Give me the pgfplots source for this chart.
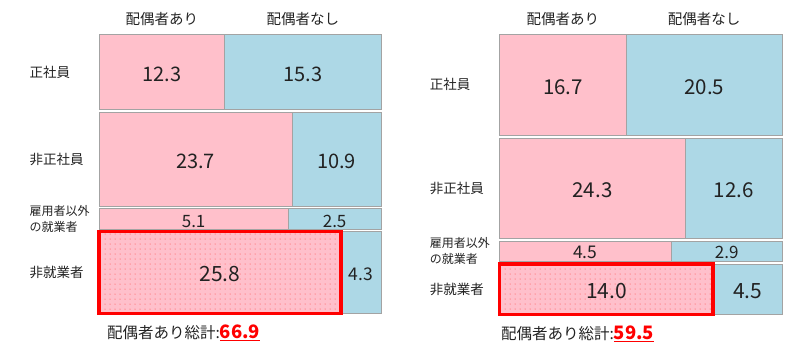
\documentclass[border=0pt]{standalone}
\usepackage{fontspec}
\setmainfont{Noto Sans CJK JP}
\usepackage{pgfplots}
\pgfplotsset{compat=1.18}
\usetikzlibrary{patterns.meta}
\definecolor{cP}{HTML}{FFC0CB}
\definecolor{cB}{HTML}{ADD8E6}
\definecolor{cG}{HTML}{A3A3A3}
\definecolor{cT}{HTML}{222222}
\newcommand\fs[1]{\fontsize{#1bp}{#1bp}\selectfont}

\pgfplotsset{
  mos/.style={hide axis, scale only axis, no markers, xmin=0, xmax=1, ymin=0,
    y dir=reverse, clip=false, anchor=south west},
  hl/.style={draw=red, line width=3.6bp,
    postaction={pattern={Dots[distance=5bp, radius=0.5bp]}, pattern color=red!75}},
  nohl/.style={},
}
\tikzset{
  val/.style={text=cT, inner sep=0pt},
  rowlab/.style={anchor=west, text=cT, inner sep=0pt, align=left},
  hdr/.style={text=cT, inner sep=0pt, font=\fs{14.5}},
}

% #1 top y, #2 with spouse, #3 without spouse, #4 size a, #5 size b,
% #6 style of pink cell, #7 yshift of values, #8 row label size, #9 row label
\newcommand\mrow[9]{%
  \pgfmathsetmacro\mTot{#2+#3}%
  \pgfmathsetmacro\mSh{#2/\mTot}%
  \pgfmathsetmacro\mYc{#1+\mTot/2}%
  \pgfmathsetmacro\mXa{\mSh/2}%
  \pgfmathsetmacro\mXb{(1+\mSh)/2}%
  \edef\mTmp{%
    \noexpand\addplot[xbar, bar shift=0pt, bar width=\mTot, fill=cB, draw=cG, line width=0.8bp, forget plot] coordinates {(1,\mYc)};%
    \noexpand\addplot[xbar, bar shift=0pt, bar width=\mTot, fill=cP, draw=cG, line width=0.8bp, #6, forget plot] coordinates {(\mSh,\mYc)};%
    \noexpand\node[val, font=\noexpand\fs{#4}, yshift=#7] at (axis cs:\mXa,\mYc) {#2};%
    \noexpand\node[val, font=\noexpand\fs{#5}, yshift=#7] at (axis cs:\mXb,\mYc) {#3};%
    \noexpand\node[rowlab, font=\noexpand\fs{#8}] at (axis cs:-0.247,\mYc) {\unexpanded{#9}};%
  }\mTmp
}
\newcommand\hdrs{%
  \edef\mTmp{%
    \noexpand\node[hdr] at (axis cs:\mXa,-5.8) {配偶者あり};%
    \noexpand\node[hdr] at (axis cs:\mXb,-5.8) {配偶者なし};%
  }\mTmp
}

\begin{document}
\begin{tikzpicture}[x=1bp,y=1bp]
\path[use as bounding box] (0,0) rectangle (800,354);

\begin{axis}[mos, at={(99bp,40.5bp)}, width=282bp, height=279bp, ymax=102.3]
\mrow{0}{12.3}{15.3}{20}{20}{nohl}{-2bp}{13.5}{正社員}
\hdrs
\mrow{28.4}{23.7}{10.9}{20}{20}{nohl}{-2bp}{13.5}{非正社員}
\mrow{63.8}{5.1}{2.5}{17}{17}{nohl}{-3bp}{12}{雇用者以外\\[3.5bp]の就業者}
\mrow{72.2}{25.8}{4.3}{21}{17.5}{hl}{-2bp}{13.5}{非就業者}
\node[anchor=west, inner sep=0pt, text=cT] at (axis cs:0.028,109.3)
  {\fs{15.5}配偶者あり総計:\textcolor{red}{\fs{18.5}\bfseries\underline{66.9}}};
\end{axis}

\begin{axis}[mos, at={(499.5bp,39.7bp)}, width=282.5bp, height=280bp, ymax=103.3]
\mrow{0}{16.7}{20.5}{20.5}{20.5}{nohl}{-2bp}{13.5}{正社員}
\hdrs
\mrow{38.3}{24.3}{12.6}{20.5}{20.5}{nohl}{-2bp}{13.5}{非正社員}
\mrow{76.3}{4.5}{2.9}{17.5}{17}{nohl}{-1bp}{12}{雇用者以外\\[3.5bp]の就業者}
\mrow{84.8}{14.0}{4.5}{21}{21}{hl}{-2bp}{13.5}{非就業者}
\node[anchor=west, inner sep=0pt, text=cT] at (axis cs:0.005,110.6)
  {\fs{15.5}配偶者あり総計:\textcolor{red}{\fs{18.5}\bfseries\underline{59.5}}};
\end{axis}
\end{tikzpicture}
\end{document}
